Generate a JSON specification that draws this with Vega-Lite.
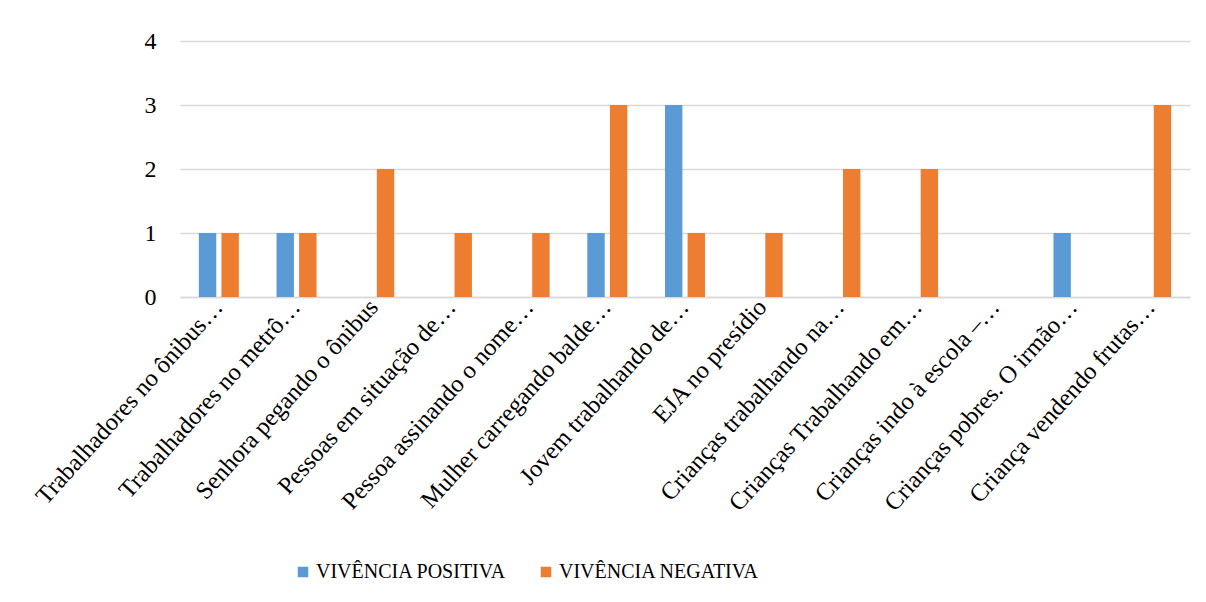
{
  "$schema": "https://vega.github.io/schema/vega-lite/v6.json",
  "width": 1010,
  "height": 256,
  "autosize": {"type": "none"},
  "padding": {"left": 180, "top": 41, "right": 16, "bottom": 305},
  "background": "white",
  "config": {
    "view": {"stroke": null},
    "font": "Liberation Serif",
    "axis": {"labelFont": "Liberation Serif"},
    "legend": {"labelFont": "Liberation Serif"}
  },
  "data": {
    "values": [
      {"cat": "Trabalhadores no ônibus…", "serie": "VIVÊNCIA POSITIVA", "v": 1},
      {"cat": "Trabalhadores no ônibus…", "serie": "VIVÊNCIA NEGATIVA", "v": 1},
      {"cat": "Trabalhadores no metrô…", "serie": "VIVÊNCIA POSITIVA", "v": 1},
      {"cat": "Trabalhadores no metrô…", "serie": "VIVÊNCIA NEGATIVA", "v": 1},
      {"cat": "Senhora pegando o ônibus", "serie": "VIVÊNCIA POSITIVA", "v": 0},
      {"cat": "Senhora pegando o ônibus", "serie": "VIVÊNCIA NEGATIVA", "v": 2},
      {"cat": "Pessoas em situação de…", "serie": "VIVÊNCIA POSITIVA", "v": 0},
      {"cat": "Pessoas em situação de…", "serie": "VIVÊNCIA NEGATIVA", "v": 1},
      {"cat": "Pessoa assinando o nome…", "serie": "VIVÊNCIA POSITIVA", "v": 0},
      {"cat": "Pessoa assinando o nome…", "serie": "VIVÊNCIA NEGATIVA", "v": 1},
      {"cat": "Mulher carregando balde…", "serie": "VIVÊNCIA POSITIVA", "v": 1},
      {"cat": "Mulher carregando balde…", "serie": "VIVÊNCIA NEGATIVA", "v": 3},
      {"cat": "Jovem trabalhando de…", "serie": "VIVÊNCIA POSITIVA", "v": 3},
      {"cat": "Jovem trabalhando de…", "serie": "VIVÊNCIA NEGATIVA", "v": 1},
      {"cat": "EJA no presídio", "serie": "VIVÊNCIA POSITIVA", "v": 0},
      {"cat": "EJA no presídio", "serie": "VIVÊNCIA NEGATIVA", "v": 1},
      {"cat": "Crianças trabalhando na…", "serie": "VIVÊNCIA POSITIVA", "v": 0},
      {"cat": "Crianças trabalhando na…", "serie": "VIVÊNCIA NEGATIVA", "v": 2},
      {"cat": "Crianças Trabalhando em…", "serie": "VIVÊNCIA POSITIVA", "v": 0},
      {"cat": "Crianças Trabalhando em…", "serie": "VIVÊNCIA NEGATIVA", "v": 2},
      {"cat": "Crianças indo à escola –…", "serie": "VIVÊNCIA POSITIVA", "v": 0},
      {"cat": "Crianças indo à escola –…", "serie": "VIVÊNCIA NEGATIVA", "v": 0},
      {"cat": "Crianças pobres. O irmão…", "serie": "VIVÊNCIA POSITIVA", "v": 1},
      {"cat": "Crianças pobres. O irmão…", "serie": "VIVÊNCIA NEGATIVA", "v": 0},
      {"cat": "Criança vendendo frutas…", "serie": "VIVÊNCIA POSITIVA", "v": 0},
      {"cat": "Criança vendendo frutas…", "serie": "VIVÊNCIA NEGATIVA", "v": 3}
    ]
  },
  "mark": {"type": "bar"},
  "encoding": {
    "x": {
      "field": "cat",
      "type": "nominal",
      "sort": null,
      "title": null,
      "scale": {"paddingInner": 0.485, "paddingOuter": 0.2425},
      "axis": {
        "labelAngle": -48,
        "labelAlign": "right",
        "labelBaseline": "middle",
        "labelFont": "Liberation Serif",
        "labelFontSize": 24.5,
        "labelColor": "#000000",
        "labelPadding": 6,
        "labelLimit": 500,
        "ticks": false,
        "domain": true,
        "domainColor": "#d9d9d9",
        "domainWidth": 1.5
      }
    },
    "xOffset": {
      "field": "serie",
      "type": "nominal",
      "sort": ["VIVÊNCIA POSITIVA", "VIVÊNCIA NEGATIVA"],
      "scale": {"paddingInner": 0.23}
    },
    "y": {
      "field": "v",
      "type": "quantitative",
      "title": null,
      "scale": {"domain": [0, 4]},
      "axis": {
        "values": [0, 1, 2, 3, 4],
        "labelFont": "Liberation Serif",
        "labelFontSize": 24,
        "labelColor": "#000000",
        "labelPadding": 24,
        "ticks": false,
        "domain": false,
        "grid": true,
        "gridColor": "#d9d9d9",
        "gridWidth": 1.5
      }
    },
    "color": {
      "field": "serie",
      "type": "nominal",
      "sort": ["VIVÊNCIA POSITIVA", "VIVÊNCIA NEGATIVA"],
      "scale": {"domain": ["VIVÊNCIA POSITIVA", "VIVÊNCIA NEGATIVA"], "range": ["#5B9BD5", "#ED7D31"]},
      "legend": {
        "title": null,
        "orient": "none",
        "direction": "horizontal",
        "legendX": 113,
        "legendY": 521,
        "symbolType": "square",
        "symbolSize": 110,
        "symbolStrokeWidth": 0,
        "labelFont": "Liberation Serif",
        "labelFontSize": 20,
        "labelLimit": 500,
        "labelColor": "#000000",
        "labelOffset": 3,
        "columnPadding": 29
      }
    }
  }
}
